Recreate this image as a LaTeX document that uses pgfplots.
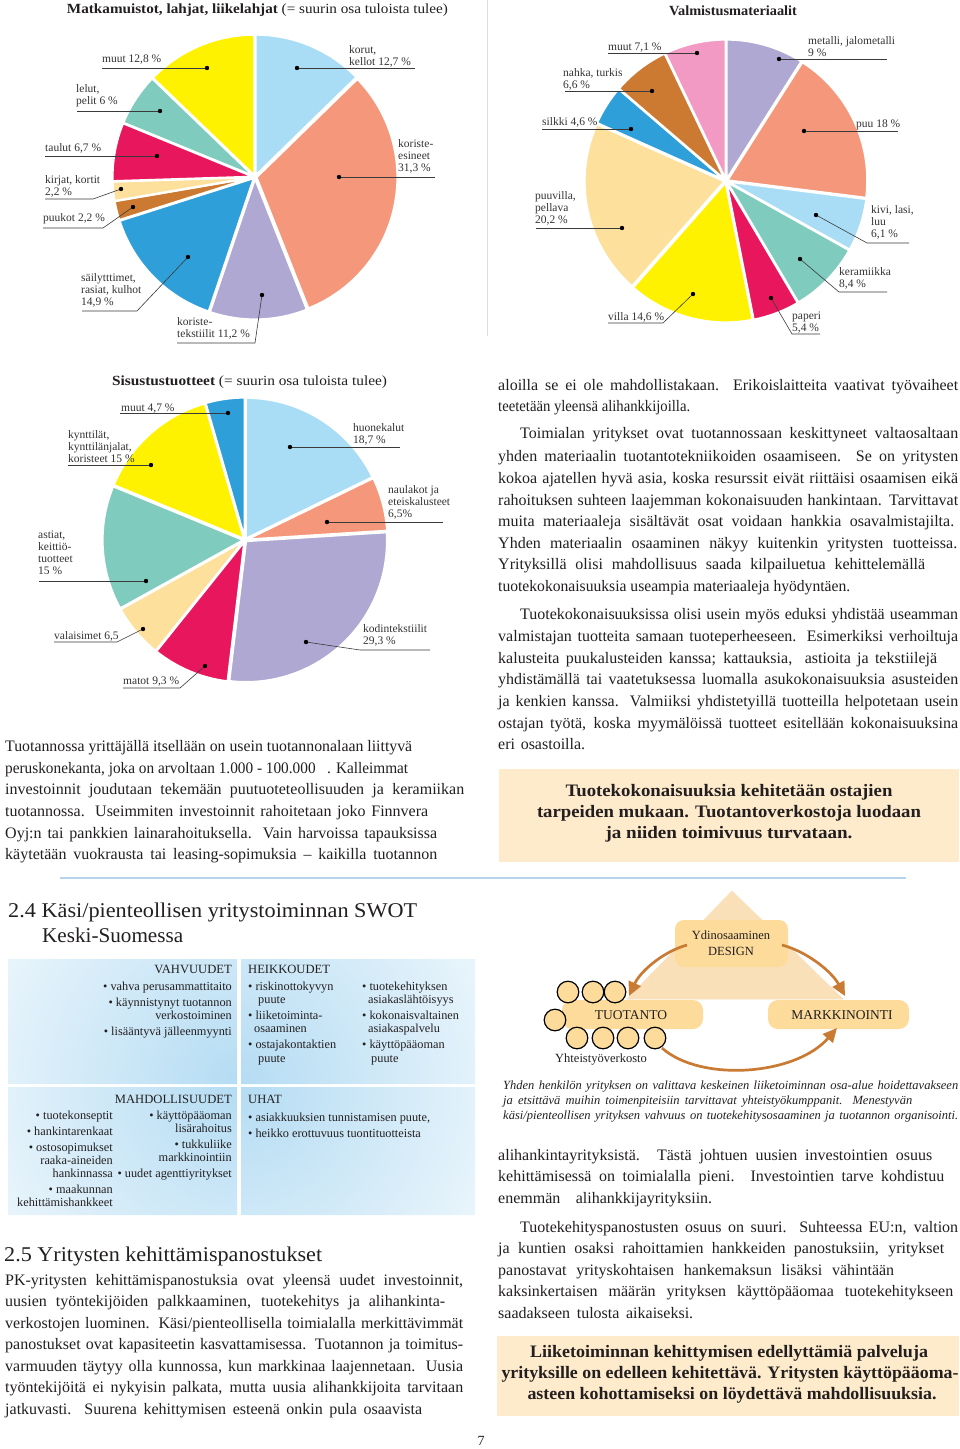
\documentclass[border=0pt]{standalone}
\usepackage{pgfplots}
\pgfplotsset{compat=1.18}
\usepackage{graphicx}
\usepackage{fontspec}
\setmainfont{Liberation Serif}
\usetikzlibrary{arrows.meta}

\definecolor{cLB}{HTML}{A9DDF6}
\definecolor{cSal}{HTML}{F4977A}
\definecolor{cLav}{HTML}{AEA8D3}
\definecolor{cBlue}{HTML}{2F9FDA}
\definecolor{cBrown}{HTML}{CC7A31}
\definecolor{cLY}{HTML}{FCE09B}
\definecolor{cRed}{HTML}{E8175D}
\definecolor{cMint}{HTML}{7FCBBE}
\definecolor{cYel}{HTML}{FFF200}
\definecolor{cPink}{HTML}{F29AC4}
\definecolor{txt}{HTML}{231F20}
\definecolor{labc}{HTML}{333333}
\definecolor{leadc}{HTML}{3A3A3A}
\definecolor{peach}{HTML}{FDEBCB}
\definecolor{amber}{HTML}{FCDB9B}
\definecolor{paletri}{HTML}{FAE0B8}
\definecolor{arr}{HTML}{C97A33}
\definecolor{swb}{HTML}{B4DCF3}
\definecolor{rulec}{HTML}{B5D3EC}
\definecolor{sepc}{HTML}{DDDDDD}

% pie data: value/colour, clockwise from 12 o'clock
\def\pieA{12.7/cLB, 31.3/cSal, 11.2/cLav, 14.9/cBlue, 2.2/cBrown, 2.2/cLY, 6.7/cRed, 6/cMint, 12.8/cYel}
\def\pieB{9/cLav, 18/cSal, 6.1/cLB, 8.4/cMint, 5.4/cRed, 14.6/cYel, 20.2/cLY, 4.6/cBlue, 6.6/cBrown, 7.1/cPink}
\def\pieC{18.7/cLB, 6.5/cSal, 29.3/cLav, 9.3/cRed, 6.5/cLY, 15/cMint, 15/cYel, 4.7/cBlue}

\newcommand\drawpie[3]{% #1 list, #2 total, #3 radius
  \pgfmathsetmacro\cumang{90}%
  \foreach \val/\col in #1 {%
    \pgfmathsetmacro\pA{\cumang}%
    \pgfmathsetmacro\pB{\cumang-\val/#2*360}%
    \pgfmathsetmacro\pM{(\pA+\pB)/2}%
    \fill[fill=\col, draw=white, line width=2.2pt, line join=round]
      (axis cs:0,0) ++(\pM:1.5pt) -- ++(\pA:#3)
      arc[start angle=\pA, end angle=\pB, radius=#3] -- cycle;
    \global\let\cumang\pB
  }}

\newlength\tmpw
\newcommand\jl[2]{\settowidth\tmpw{#2}\ifdim\tmpw>#1 pt\relax\pgfmathsetmacro\sfac{#1/\tmpw}\scalebox{\sfac}[1]{#2}\else\makebox[#1 pt][s]{#2}\fi}
\newcommand\fitto[2]{\settowidth\tmpw{#2}\pgfmathsetmacro\sfac{#1/\tmpw}\scalebox{\sfac}[1]{#2}}

\newcommand\bodyfont{\fontsize{16}{20}\selectfont}
\newcommand\labfont{\fontsize{11.5}{12}\selectfont}
\newcommand\swfont{\fontsize{12.3}{13}\selectfont}
\newcommand\swhfont{\fontsize{12.6}{13}\selectfont}
\newcommand\capfont{\fontsize{12.5}{15}\selectfont\itshape}
\newcommand\boxfont{\fontsize{17.5}{21}\selectfont\bfseries}

\newcommand\tl[5][\bodyfont]{\pgfmathsetmacro\ww{#4-#2}\node[anchor=base west, inner sep=0pt, text=txt, font=#1] at (#2,#3) {\jl{\ww}{#5}};}
\newcommand\dotat[1]{\fill[black] #1 circle (2.2pt);}

\tikzset{
  lead/.style={draw=leadc, line width=0.6pt},
  lab/.style={anchor=south west, inner sep=0pt, text depth=0pt, font=\labfont, align=left, text=labc},
  sw/.style={inner sep=0pt, font=\swfont, text=txt},
  darr/.style={draw=arr, line width=2.7pt, -{Triangle[length=14pt,width=13pt]}},
}
\pgfplotsset{
  pieax/.style={anchor=center, hide axis, x=1pt, y=1pt, xmin=-150, xmax=150, ymin=-150, ymax=150, clip=false},
}

\begin{document}
\begin{tikzpicture}[x=1pt,y=-1pt]
\path[use as bounding box, fill=white] (0,0) rectangle (960,1449);

% ---------- pies ----------
\begin{axis}[pieax, at={(255pt,-177pt)}]
\addplot[draw=none] coordinates {(0,0)};
\pgfplotsextra{\drawpie{\pieA}{100}{141pt}}
\end{axis}
\begin{axis}[pieax, at={(726pt,-181pt)}]
\addplot[draw=none] coordinates {(0,0)};
\pgfplotsextra{\drawpie{\pieB}{100}{140pt}}
\end{axis}
\begin{axis}[pieax, at={(245pt,-540pt)}]
\addplot[draw=none] coordinates {(0,0)};
\pgfplotsextra{\drawpie{\pieC}{105}{141pt}}
\end{axis}

% pale triangle of the diagram, as a filled polygon in a page-sized axis
\begin{axis}[anchor=south west, at={(0pt,-1449pt)}, hide axis, x=1pt, y=1pt, xmin=0, xmax=960, ymin=0, ymax=1449, clip=false]
\addplot[fill=paletri, draw=paletri, line width=0.5pt] coordinates {(732,558) (843,450) (627,450) (732,558)};
\end{axis}

\draw[sepc, line width=0.8pt] (487,0) -- (487,336);

% titles
\node[anchor=base, inner sep=0pt, text=txt, font=\fontsize{14}{16}\selectfont] at (257.5,13.5) {\fitto{381}{\textbf{Matkamuistot, lahjat, liikelahjat} (= suurin osa tuloista tulee)}};
\node[anchor=base, inner sep=0pt, text=txt, font=\fontsize{14}{16}\selectfont] at (733,15) {\fitto{128}{\textbf{Valmistusmateriaalit}}};
\node[anchor=base, inner sep=0pt, text=txt, font=\fontsize{14}{16}\selectfont] at (249.5,385.5) {\fitto{275}{\textbf{Sisustustuotteet} (= suurin osa tuloista tulee)}};

% ---------- pie 1 labels ----------
\node[lab] at (102,63) {muut 12,8 \%}; \draw[lead] (102,68)--(207,68); \dotat{(207,68)}
\node[lab] at (349,66) {korut,\\kellot 12,7 \%}; \draw[lead] (297,68)--(415,68); \dotat{(297,68)}
\node[lab] at (76,105) {lelut,\\pelit 6 \%}; \draw[lead] (77,111)--(160,111); \dotat{(160,111)}
\node[lab] at (398,172) {koriste-\\esineet\\31,3 \%}; \draw[lead] (339,177)--(435,177); \dotat{(339,177)}
\node[lab] at (45,152) {taulut 6,7 \%}; \draw[lead] (45,156)--(157,156); \dotat{(157,156)}
\node[lab] at (45,196) {kirjat, kortit\\2,2 \%}; \draw[lead] (45,199)--(93,199)--(121,189); \dotat{(121,189)}
\node[lab] at (43,222) {puukot 2,2 \%}; \draw[lead] (43,228)--(103,228)--(133,207); \dotat{(133,207)}
\node[lab] at (81,306) {säilytttimet,\\rasiat, kulhot\\14,9 \%}; \draw[lead] (82,311)--(137,311)--(188,257); \dotat{(188,257)}
\node[lab] at (177,338) {koriste-\\tekstiilit 11,2 \%}; \draw[lead] (177,343)--(255,343)--(262,295); \dotat{(262,295)}

% ---------- pie 2 labels ----------
\node[lab] at (608,51) {muut 7,1 \%}; \draw[lead] (608,53)--(697,53); \dotat{(697,53)}
\node[lab] at (808,57) {metalli, jalometalli\\9 \%}; \draw[lead] (779,59)--(887,59); \dotat{(779,59)}
\node[lab] at (563,89) {nahka, turkis\\6,6 \%}; \draw[lead] (565,91)--(652,91); \dotat{(652,91)}
\node[lab] at (542,126) {silkki 4,6 \%}; \draw[lead] (542,129)--(631,129); \dotat{(631,129)}
\node[lab] at (856,128) {puu 18 \%}; \draw[lead] (804,131)--(898,131); \dotat{(804,131)}
\node[lab] at (535,224) {puuvilla,\\pellava\\20,2 \%}; \draw[lead] (536,228)--(622,228); \dotat{(622,228)}
\node[lab] at (871,238) {kivi, lasi,\\luu\\6,1 \%}; \draw[lead] (816,215)--(867,243)--(909,243); \dotat{(816,215)}
\node[lab] at (839,288) {keramiikka\\8,4 \%}; \draw[lead] (800,259)--(839,292)--(887,292); \dotat{(800,259)}
\node[lab] at (608,321) {villa 14,6 \%}; \draw[lead] (608,323)--(663,323)--(693,294); \dotat{(693,294)}
\node[lab] at (792,332) {paperi\\5,4 \%}; \draw[lead] (771,298)--(792,334)--(820,334); \dotat{(771,298)}

% ---------- pie 3 labels ----------
\node[lab] at (121,412) {muut 4,7 \%}; \draw[lead] (120,413)--(228,413); \dotat{(228,413)}
\node[lab] at (353,444) {huonekalut\\18,7 \%}; \draw[lead] (290,447)--(400,447); \dotat{(290,447)}
\node[lab] at (68,463) {kynttilät,\\kynttilänjalat,\\koristeet 15 \%}; \draw[lead] (68,465)--(151,465); \dotat{(151,465)}
\node[lab] at (388,518) {naulakot ja\\eteiskalusteet\\6,5\%}; \draw[lead] (327,522)--(443,522); \dotat{(327,522)}
\node[lab] at (38,575) {astiat,\\keittiö-\\tuotteet\\15 \%}; \draw[lead] (39,581)--(146,581); \dotat{(146,581)}
\node[lab] at (363,645) {kodintekstiilit\\29,3 \%}; \draw[lead] (306,642)--(360,650)--(430,650); \dotat{(306,642)}
\node[lab] at (54,640) {valaisimet 6,5}; \draw[lead] (54,642)--(117,642)--(143,629); \dotat{(143,629)}
\node[lab] at (123,685) {matot 9,3 \%}; \draw[lead] (123,688)--(180,688)--(205,666); \dotat{(205,666)}

% ---------- right column text ----------
\tl{498}{390.5}{958}{aloilla se ei ole mahdollistakaan. Erikoislaitteita vaativat työvaiheet}
\tl{498}{411.5}{690}{teetetään yleensä alihankkijoilla.}
\tl{520}{438}{958}{Toimialan yritykset ovat tuotannossaan keskittyneet valtaosaltaan}
\tl{498}{461}{958}{yhden materiaalin tuotantotekniikoiden osaamiseen. Se on yritysten}
\tl{498}{483}{958}{kokoa ajatellen hyvä asia, koska resurssit eivät riittäisi osaamisen eikä}
\tl{498}{505}{958}{rahoituksen suhteen laajemman kokonaisuuden hankintaan. Tarvittavat}
\tl{498}{526.5}{954}{muita materiaaleja sisältävät osat voidaan hankkia osavalmistajilta.}
\tl{498}{548}{957}{Yhden materiaalin osaaminen näkyy kuitenkin yritysten tuotteissa.}
\tl{498}{569.5}{925}{Yrityksillä olisi mahdollisuus saada kilpailuetua kehittelemällä}
\tl{498}{591}{850}{tuotekokonaisuuksia useampia materiaaleja hyödyntäen.}
\tl{520}{619.5}{958}{Tuotekokonaisuuksissa olisi usein myös eduksi yhdistää useamman}
\tl{498}{641}{958}{valmistajan tuotteita samaan tuoteperheeseen. Esimerkiksi verhoiltuja}
\tl{498}{663}{937}{kalusteita puukalusteiden kanssa; kattauksia,\ \ astioita ja tekstiilejä}
\tl{498}{684.5}{958}{yhdistämällä tai vaatetuksessa luomalla asukokonaisuuksia asusteiden}
\tl{498}{706.5}{958}{ja kenkien kanssa. Valmiiksi yhdistetyillä tuotteilla helpotetaan usein}
\tl{498}{728}{958}{ostajan työtä, koska myymälöissä tuotteet esitellään kokonaisuuksina}
\tl{498}{749.5}{585}{eri osastoilla.}

\fill[peach] (499,769) rectangle (959,862);
\node[anchor=base, inner sep=0pt, text=txt, font=\boxfont] at (729,796) {\fitto{327}{Tuotekokonaisuuksia kehitetään ostajien}};
\node[anchor=base, inner sep=0pt, text=txt, font=\boxfont] at (729,817) {\fitto{384}{tarpeiden mukaan. Tuotantoverkostoja luodaan}};
\node[anchor=base, inner sep=0pt, text=txt, font=\boxfont] at (729,838) {\fitto{247}{ja niiden toimivuus turvataan.}};

% ---------- left text ----------
\tl{5}{751.5}{412}{Tuotannossa yrittäjällä itsellään on usein tuotannonalaan liittyvä}
\tl{5}{773.5}{408}{peruskonekanta, joka on arvoltaan 1.000 - 100.000\ \ \ . Kalleimmat}
\tl{5}{794.5}{464}{investoinnit joudutaan tekemään puutuoteteollisuuden ja keramiikan}
\tl{5}{816.5}{428}{tuotannossa. Useimmiten investoinnit rahoitetaan joko Finnvera}
\tl{5}{838.5}{437}{Oyj:n tai pankkien lainarahoituksella. Vain harvoissa tapauksissa}
\tl{5}{859.5}{437}{käytetään vuokrausta tai leasing-sopimuksia – kaikilla tuotannon}

\draw[rulec, line width=1.5pt] (60,878) -- (906,878);

% ---------- SWOT ----------
\node[anchor=base west, inner sep=0pt, text=txt, font=\fontsize{21}{24}\selectfont] at (8,917) {\fitto{409}{2.4 Käsi/pienteollisen yritystoiminnan SWOT}};
\node[anchor=base west, inner sep=0pt, text=txt, font=\fontsize{21}{24}\selectfont] at (42,942) {\fitto{141}{Keski-Suomessa}};

\begin{scope}
\clip (8,959) rectangle (237,1084) (241,959) rectangle (475,1084) (8,1087) rectangle (237,1215) (241,1087) rectangle (475,1215);
\shade[inner color=swb, outer color=white] (239,1085) circle (380pt);
\end{scope}

\node[sw, anchor=base east, font=\swhfont] at (232,973) {VAHVUUDET};
\node[sw, anchor=base east] at (232,990) {• vahva perusammattitaito};
\node[sw, anchor=base east] at (232,1006) {• käynnistynyt tuotannon};
\node[sw, anchor=base east] at (232,1019) {verkostoiminen};
\node[sw, anchor=base east] at (232,1035) {• lisääntyvä jälleenmyynti};

\node[sw, anchor=base west, font=\swhfont] at (248,973) {HEIKKOUDET};
\node[sw, anchor=base west] at (248,990) {• riskinottokyvyn};
\node[sw, anchor=base west] at (258,1003.5) {puute};
\node[sw, anchor=base west] at (248,1019.5) {• liiketoiminta-};
\node[sw, anchor=base west] at (254,1032.5) {osaaminen};
\node[sw, anchor=base west] at (248,1048.5) {• ostajakontaktien};
\node[sw, anchor=base west] at (258,1062.5) {puute};
\node[sw, anchor=base west] at (362,990) {• tuotekehityksen};
\node[sw, anchor=base west] at (368,1003.5) {asiakaslähtöisyys};
\node[sw, anchor=base west] at (362,1019.5) {• kokonaisvaltainen};
\node[sw, anchor=base west] at (368,1032.5) {asiakaspalvelu};
\node[sw, anchor=base west] at (362,1048.5) {• käyttöpääoman};
\node[sw, anchor=base west] at (371,1062.5) {puute};

\node[sw, anchor=base east, font=\swhfont] at (232,1103) {MAHDOLLISUUDET};
\node[sw, anchor=base east] at (113,1119) {• tuotekonseptit};
\node[sw, anchor=base east] at (113,1135) {• hankintarenkaat};
\node[sw, anchor=base east] at (113,1151) {• ostosopimukset};
\node[sw, anchor=base east] at (113,1164.5) {raaka-aineiden};
\node[sw, anchor=base east] at (113,1177.5) {hankinnassa};
\node[sw, anchor=base east] at (113,1193.5) {• maakunnan};
\node[sw, anchor=base east] at (113,1206.5) {kehittämishankkeet};
\node[sw, anchor=base east] at (232,1119) {• käyttöpääoman};
\node[sw, anchor=base east] at (232,1132) {lisärahoitus};
\node[sw, anchor=base east] at (232,1148.5) {• tukkuliike};
\node[sw, anchor=base east] at (232,1161) {markkinointiin};
\node[sw, anchor=base east] at (232,1177.5) {• uudet agenttiyritykset};

\node[sw, anchor=base west, font=\swhfont] at (248,1103) {UHAT};
\node[sw, anchor=base west] at (248,1121) {• asiakkuuksien tunnistamisen puute,};
\node[sw, anchor=base west] at (248,1137) {• heikko erottuvuus tuontituotteista};

% ---------- diagram ----------
\path[fill=amber, rounded corners=9pt] (675,920) rectangle (788,967);
\path[fill=amber, rounded corners=10pt] (562,1000) rectangle (703,1029);
\path[fill=amber, rounded corners=10pt] (768,1000) rectangle (909,1029);
\foreach \p in {(568,992),(593,992),(615,992),(555,1020),(577,1038),(603,1038),(628,1038),(655,1038)}
  \filldraw[fill=amber, draw=black, line width=1.2pt] \p circle (10.8pt);
\node[anchor=base, inner sep=0pt, text=txt, font=\fontsize{12.5}{14}\selectfont] at (731,939) {Ydinosaaminen};
\node[anchor=base, inner sep=0pt, text=txt, font=\fontsize{12.5}{14}\selectfont] at (731,955.5) {DESIGN};
\node[anchor=base, inner sep=0pt, text=txt, font=\fontsize{13.5}{14}\selectfont] at (631,1019.5) {TUOTANTO};
\node[anchor=base, inner sep=0pt, text=txt, font=\fontsize{13.5}{14}\selectfont] at (842,1019.5) {MARKKINOINTI};
\node[anchor=base west, inner sep=0pt, text=txt, font=\fontsize{12.5}{14}\selectfont] at (555,1062) {Yhteistyöverkosto};
\draw[darr] (687,945) .. controls (662,952) and (640,972) .. (629,996);
\draw[darr] (782,945) .. controls (808,952) and (832,972) .. (845,996);
\draw[darr] (662,1048) .. controls (700,1082) and (795,1076) .. (837,1028);

\tl[\capfont]{503}{1089.5}{958}{Yhden henkilön yrityksen on valittava keskeinen liiketoiminnan osa-alue hoidettavakseen}
\tl[\capfont]{503}{1104.5}{912}{ja etsittävä muihin toimenpiteisiin tarvittavat yhteistyökumppanit. Menestyvän}
\tl[\capfont]{503}{1119.5}{958}{käsi/pienteollisen yrityksen vahvuus on tuotekehitysosaaminen ja tuotannon organisointi.}

% ---------- lower right ----------
\tl{498}{1160.5}{932}{alihankintayrityksistä. Tästä johtuen uusien investointien osuus}
\tl{498}{1181.5}{944}{kehittämisessä on toimialalla pieni. Investointien tarve kohdistuu}
\tl{498}{1203.5}{712}{enemmän alihankkijayrityksiin.}
\tl{520}{1232.5}{958}{Tuotekehityspanostusten osuus on suuri. Suhteessa EU:n, valtion}
\tl{498}{1253.5}{944}{ja kuntien osaksi rahoittamien hankkeiden panostuksiin, yritykset}
\tl{498}{1275.5}{894}{panostavat yrityskohtaisen hankemaksun lisäksi vähintään}
\tl{498}{1296.5}{953}{kaksinkertaisen määrän yrityksen käyttöpääomaa tuotekehitykseen}
\tl{498}{1318.5}{693}{saadakseen tulosta aikaiseksi.}

\fill[peach] (497,1336) rectangle (959,1416);
\node[anchor=base, inner sep=0pt, text=txt, font=\boxfont] at (729,1357) {\fitto{398}{Liiketoiminnan kehittymisen edellyttämiä palveluja}};
\node[anchor=base, inner sep=0pt, text=txt, font=\boxfont] at (730,1378) {\fitto{457}{yrityksille on edelleen kehitettävä. Yritysten käyttöpääoma-}};
\node[anchor=base, inner sep=0pt, text=txt, font=\boxfont] at (732,1399) {\fitto{409}{asteen kohottamiseksi on löydettävä mahdollisuuksia.}};

% ---------- lower left ----------
\node[anchor=base west, inner sep=0pt, text=txt, font=\fontsize{21}{24}\selectfont] at (4,1261) {\fitto{318}{2.5 Yritysten kehittämispanostukset}};
\tl{5}{1285}{463}{PK-yritysten kehittämispanostuksia ovat yleensä uudet investoinnit,}
\tl{5}{1306.5}{445}{uusien työntekijöiden palkkaaminen, tuotekehitys ja alihankinta-}
\tl{5}{1328}{463}{verkostojen luominen. Käsi/pienteollisella toimialalla merkittävimmät}
\tl{5}{1349.5}{463}{panostukset ovat kapasiteetin kasvattamisessa. Tuotannon ja toimitus-}
\tl{5}{1371}{463}{varmuuden täytyy olla kunnossa, kun markkinaa laajennetaan. Uusia}
\tl{5}{1392.5}{463}{työntekijöitä ei nykyisin palkata, mutta uusia alihankkijoita tarvitaan}
\tl{5}{1414}{422}{jatkuvasti. Suurena kehittymisen esteenä onkin pula osaavista}

\node[anchor=base, inner sep=0pt, text=txt, font=\fontsize{14}{16}\selectfont] at (481,1445) {7};
\end{tikzpicture}
\end{document}
